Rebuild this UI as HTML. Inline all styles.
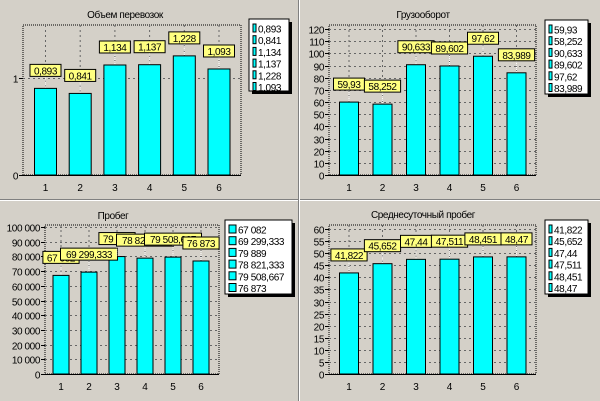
<!DOCTYPE html>
<html><head><meta charset="utf-8"><style>
body{margin:0;background:#d4d0c8;}
svg{display:block;font-family:"Liberation Sans",sans-serif;}
</style></head><body>
<svg id="c" width="600" height="401" viewBox="0 0 600 401" xmlns="http://www.w3.org/2000/svg">
<rect x="0" y="0" width="600" height="401" fill="#d4d0c8"/>
<line x1="0" y1="199.5" x2="600" y2="199.5" stroke="#808080"/>
<line x1="0" y1="200.5" x2="600" y2="200.5" stroke="#fff"/>
<line x1="298.5" y1="0" x2="298.5" y2="401" stroke="#808080"/>
<line x1="299.5" y1="0" x2="299.5" y2="401" stroke="#fff"/>
</svg>
<script>
const categories=["1","2","3","4","5","6"];
const volumeValues=[0.893,0.841,1.134,1.137,1.228,1.093];
const volumeLabels=["0,893","0,841","1,134","1,137","1,228","1,093"];
const volumeTicks=[0,1];
const cargoValues=[59.93,58.252,90.633,89.602,97.62,83.989];
const cargoLabels=["59,93","58,252","90,633","89,602","97,62","83,989"];
const cargoTicks=[0,10,20,30,40,50,60,70,80,90,100,110,120];
const mileageValues=[67082,69299.333,79889,78821.333,79508.667,76873];
const mileageLabels=["67 082","69 299,333","79 889","78 821,333","79 508,667","76 873"];
const mileageTicks=[0,10000,20000,30000,40000,50000,60000,70000,80000,90000,100000];
const mileageTickLabels=["0","10 000","20 000","30 000","40 000","50 000","60 000","70 000","80 000","90 000","100 000"];
const dailyValues=[41.822,45.652,47.44,47.511,48.451,48.47];
const dailyLabels=["41,822","45,652","47,44","47,511","48,451","48,47"];
const dailyTicks=[0,5,10,15,20,25,30,35,40,45,50,55,60];

const svg=document.getElementById('c');
const NS="http://www.w3.org/2000/svg";
function mk(tag,attrs,parent){const e=document.createElementNS(NS,tag);for(const k in attrs)e.setAttribute(k,attrs[k]);(parent||svg).appendChild(e);return e;}
const FS=10, LS=-0.4;

function chart(cfg){
  const g=mk('g',{});
  
  
  const yS=v=>cfg.y0-(v-0)/cfg.yMax*(cfg.y0-cfg.yTop);
  const xS=i=>cfg.cx0+cfg.step*i;
  const t=mk('text',{x:cfg.titleX,y:cfg.titleY,'font-size':FS,'letter-spacing':LS,'text-anchor':'middle',fill:'#000'},g);
  t.textContent=cfg.title;
  
  
  const pa=mk('rect',{x:cfg.px0,y:cfg.py0,width:cfg.px1-cfg.px0,height:cfg.y0-cfg.py0,fill:'#d4d0c8',stroke:'#000','stroke-dasharray':'1,1'},g);
  
  
  cfg.ticks.forEach((v,k)=>{
    const y=Math.round(yS(v))+0.5;
    if(v>0){const gl=mk('line',{x1:cfg.px0,x2:cfg.px1,y1:y,y2:y,stroke:'#666','stroke-dasharray':'2,3'},g);
      
      }
    const tk=mk('line',{x1:cfg.px0-4,x2:cfg.px0,y1:y,y2:y,stroke:'#000'},g);
    
    
    const tl=mk('text',{x:cfg.px0-5,y:y+4,'font-size':FS,'letter-spacing':LS,'text-anchor':'end'},g);
    tl.textContent=cfg.tickLabels?cfg.tickLabels[k]:String(v);
    
    
  });
  categories.forEach((c,i)=>{
    const x=xS(i);
    const vl=mk('line',{x1:x,x2:x,y1:cfg.py0,y2:cfg.y0,stroke:'#666','stroke-dasharray':'2,3'},g);
    
    
    const xl=mk('text',{x:x,y:cfg.y0+16,'font-size':FS,'text-anchor':'middle'},g);
    xl.textContent=c;
    
    
  });
  const ax=mk('line',{x1:cfg.px0,x2:cfg.px1,y1:cfg.y0+0.5,y2:cfg.y0+0.5,stroke:'#000'},g);
  
  
  cfg.values.forEach((v,i)=>{
    const x=xS(i), top=yS(v);
    const b=mk('rect',{x:x-cfg.bw/2,y:top,width:cfg.bw,height:cfg.y0-top,fill:'#00ffff',stroke:'#000'},g);
    
    
  });
  cfg.values.forEach((v,i)=>{
    const x=xS(i), top=yS(v);
    const ly=top-24, w=cfg.labels[i].length*5.2+5;
    const ln=mk('line',{x1:x,x2:x,y1:ly+12,y2:top,stroke:'#fff','stroke-dasharray':'1,1'},g);
    
    
    const lb=mk('rect',{x:x-w/2,y:ly,width:w,height:12,fill:'#ffff80',stroke:'#000'},g);
    
    
    const lt=mk('text',{x:x,y:ly+10,'font-size':FS,'letter-spacing':LS,'text-anchor':'middle'},g);
    lt.textContent=cfg.labels[i];
    
    
  });
  const L=cfg.legend;
  const sh=mk('rect',{x:L.x+3,y:L.y+3,width:L.w,height:L.h,fill:'#000'},g);
  
  
  const lg=mk('rect',{x:L.x,y:L.y,width:L.w,height:L.h,fill:'#fff',stroke:'#000'},g);
  
  
  cfg.labels.forEach((s,i)=>{
    const ry=L.y+4+i*11.7;
    const sw=mk('rect',{x:L.x+4,y:ry+1,width:L.sw,height:8,fill:'#00ffff',stroke:'#000'},g);
    
    
    const et=mk('text',{x:L.x+6+L.sw,y:ry+9.5,'font-size':FS,'letter-spacing':LS},g);
    et.textContent=s;
    
    
  });
}
chart({name:'volume-chart',title:'Объем перевозок',titleX:125,titleY:18,values:volumeValues,labels:volumeLabels,ticks:volumeTicks,
  px0:23,px1:241,py0:25,y0:175,yTop:78,yMax:1,cx0:45.5,step:34.7,bw:22,legend:{x:249,y:19,w:40,h:72,sw:3}});
chart({name:'cargo-turnover-chart',title:'Грузооборот',titleX:423,titleY:18,values:cargoValues,labels:cargoLabels,ticks:cargoTicks,
  px0:329,px1:536,py0:25,y0:175,yTop:29,yMax:120,cx0:349,step:33.5,bw:19,legend:{x:545,y:20,w:43,h:74,sw:3}});
chart({name:'mileage-chart',title:'Пробег',titleX:113,titleY:219,values:mileageValues,labels:mileageLabels,ticks:mileageTicks,tickLabels:mileageTickLabels,
  px0:45,px1:219,py0:225,y0:374,yTop:227,yMax:100000,cx0:61,step:28,bw:16,legend:{x:225,y:220,w:67,h:74,sw:7}});
chart({name:'daily-mileage-chart',title:'Среднесуточный пробег',titleX:423,titleY:218,values:dailyValues,labels:dailyLabels,ticks:dailyTicks,
  px0:329,px1:536,py0:225,y0:374,yTop:229,yMax:60,cx0:349,step:33.5,bw:19,legend:{x:545,y:220,w:43,h:74,sw:3}});
</script>
</body></html>
